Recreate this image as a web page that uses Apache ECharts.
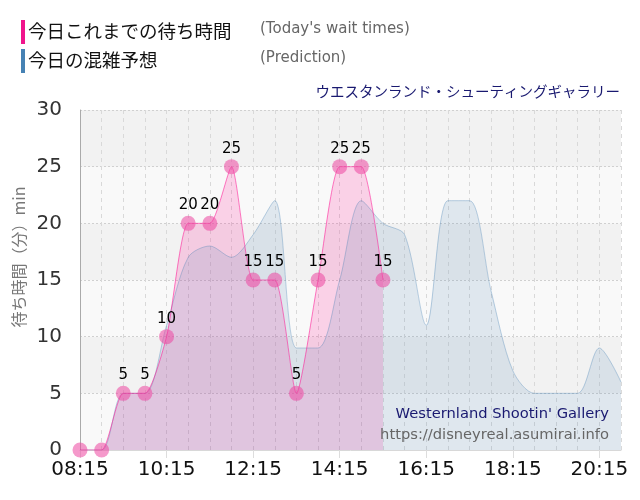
<!DOCTYPE html>
<html>
<head>
<meta charset="utf-8">
<script src="https://cdn.jsdelivr.net/npm/echarts@6/dist/echarts.min.js"></script>
<style>
html,body{margin:0;padding:0;background:#fff;}
#chart{width:640px;height:500px;}
</style>
</head>
<body>
<div id="chart"></div>
<script>
// Time categories (every 30 minutes)
var times = ['08:15','08:45','09:15','09:45','10:15','10:45','11:15','11:45','12:15','12:45',
             '13:15','13:45','14:15','14:45','15:15','15:45','16:15','16:45','17:15','17:45',
             '18:15','18:45','19:15','19:45','20:15','20:45'];
// Today's actual wait times (minutes)
var todayWait = [0,0,5,5,10,20,20,25,15,15,5,15,25,25,15];
// Prediction (minutes)
var prediction = [0,0,5,5,11,17,18,17,19,22,9,9,15,22,20,19,11,22,22,14,7,5,5,5,9,6];
// Y axis ticks
var yTicks = [0,5,10,15,20,25,30];

var chart = echarts.init(document.getElementById('chart'), null, {renderer:'canvas'});
var FONT = 'DejaVu Sans';

var option = {
  animation: false,
  grid: {left: 80, right: 19, top: 110, bottom: 50, containLabel: false},
  xAxis: {
    type: 'category',
    data: times,
    boundaryGap: false,
    axisLine: {show: true, lineStyle: {color: '#d8d8d8', width: 1}},
    axisTick: {show: true, interval: 3, length: 8, lineStyle: {color: '#dddddd'}},
    axisLabel: {interval: 3, color: '#111', fontSize: 20, fontFamily: FONT, margin: 10},
    splitLine: {show: true, interval: 0, lineStyle: {color: '#d9d9d9', type: [4,4], width: 1}}
  },
  yAxis: {
    type: 'value',
    min: yTicks[0],
    max: yTicks[yTicks.length - 1],
    interval: 5,
    axisLine: {show: true, lineStyle: {color: '#aaaaaa', width: 1}},
    axisTick: {show: false},
    axisLabel: {color: '#333', fontSize: 20, fontFamily: FONT, margin: 18},
    splitLine: {show: true, lineStyle: {color: '#d0d0d0', type: [2,2], width: 1}},
    splitArea: {show: true, areaStyle: {color: ['#f9f9f9', '#f2f2f2']}}
  },
  series: [
    {
      name: 'todayArea',
      type: 'line',
      data: todayWait,
      smooth: 0.2,
      symbol: 'none',
      lineStyle: {width: 0},
      areaStyle: {color: 'rgba(255,20,147,0.25)', origin: 'start'},
      z: 2
    },
    {
      name: 'prediction',
      type: 'line',
      data: prediction,
      smooth: 0.3,
      symbol: 'none',
      lineStyle: {width: 1, color: 'rgba(70,130,180,0.35)'},
      areaStyle: {color: 'rgba(70,130,180,0.2)', origin: 'start'},
      z: 3
    },
    {
      name: 'today',
      type: 'line',
      data: todayWait,
      smooth: 0.2,
      symbol: 'circle',
      symbolSize: 15,
      showAllSymbol: true,
      itemStyle: {color: 'rgba(236,70,160,0.55)', borderWidth: 0},
      lineStyle: {width: 1, color: 'rgba(255,20,147,0.55)'},
      label: {
        show: true, position: 'top', distance: 3, color: '#000', fontSize: 15, fontFamily: FONT,
        formatter: function (p) { return p.value === 0 ? '' : String(p.value); }
      },
      z: 4
    }
  ],
  graphic: [
    {type: 'rect', left: 21, top: 20, shape: {width: 4, height: 24}, style: {fill: '#f0148c'}},
    {type: 'rect', left: 21, top: 49, shape: {width: 4, height: 24}, style: {fill: '#4682b4'}},
    {type: 'text', left: 28, top: 22, style: {text: '今日これまでの待ち時間', fontSize: 18.5, fontFamily: 'Noto Sans CJK JP', fill: '#111'}},
    {type: 'text', left: 28, top: 51, style: {text: '今日の混雑予想', fontSize: 18.5, fontFamily: 'Noto Sans CJK JP', fill: '#111'}},
    {type: 'text', left: 260, top: 22, style: {text: "(Today's wait times)", fontSize: 15, fontFamily: FONT, fill: '#666'}},
    {type: 'text', left: 260, top: 51, style: {text: '(Prediction)', fontSize: 15, fontFamily: FONT, fill: '#666'}},
    {type: 'text', right: 20, top: 84, style: {text: 'ウエスタンランド・シューティングギャラリー', fontSize: 14.5, fontFamily: 'Noto Sans CJK JP', fill: '#191970'}},
    {type: 'text', right: 31, top: 407, z: 10, style: {text: "Westernland Shootin' Gallery", fontSize: 14.7, fontFamily: FONT, fill: '#191970'}},
    {type: 'text', right: 31, top: 428, z: 10, style: {text: 'https://disneyreal.asumirai.info', fontSize: 14.7, fontFamily: FONT, fill: '#666'}},
    {type: 'text', x: 19, y: 257, rotation: Math.PI / 2, z: 10,
     style: {text: '待ち時間（分）min', fontSize: 16, fontFamily: 'Noto Sans CJK JP', fill: '#777', align: 'center', verticalAlign: 'middle'}}
  ]
};
chart.setOption(option);
</script>
</body>
</html>
